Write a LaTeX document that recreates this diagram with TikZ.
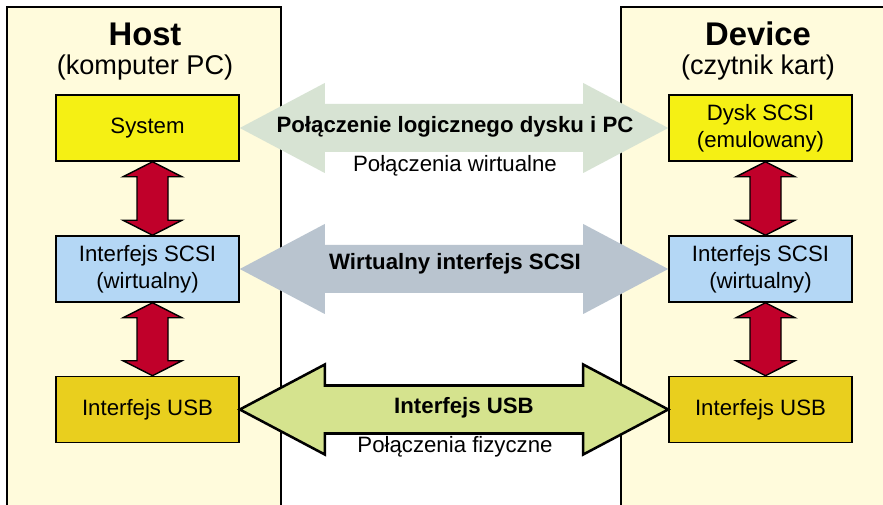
\documentclass[tikz,border=0pt]{standalone}
\usepackage{fontspec}
\setmainfont{Liberation Sans}
\usetikzlibrary{calc, positioning}
\usepackage{xcolor}

\definecolor{panelcol}{RGB}{255,251,220}
\definecolor{syscol}{RGB}{245,240,20}
\definecolor{scsicol}{RGB}{180,215,245}
\definecolor{usbcol}{RGB}{233,207,30}
\definecolor{redcol}{RGB}{192,0,42}
\definecolor{logcol}{RGB}{215,227,211}
\definecolor{virtcol}{RGB}{185,196,207}
\definecolor{fizcol}{RGB}{213,227,142}

% wide horizontal double arrow between two boxes
\newcommand{\widearrow}[3]{%
  \path[#1] (#2.east) -- ++(85,-45) -- ++(0,21) -- ($(#3.west)+(-85,-24)$) -- ++(0,-21)
    -- (#3.west) -- ++(-85,45) -- ++(0,-21) -- ($(#2.east)+(85,24)$) -- ++(0,21) -- cycle;}

% red vertical double arrow between two stacked boxes
\newcommand{\updown}[2]{%
  \draw[updownarrow] ($(#1.south)+(5,0)$) -- ++(29.5,15) -- ++(-14,0) -- ($(#2.north)+(20.5,-15)$)
    -- ++(14,0) -- ($(#2.north)+(5,0)$) -- ++(-29.5,-15) -- ++(14,0) -- ($(#1.south)+(-10.5,15)$)
    -- ++(-14,0) -- cycle;}

\tikzset{
  box/.style={draw, line width=1.1pt, minimum width=4.575cm, minimum height=1.65cm,
    align=center, font=\fontsize{15.8}{19.5}\selectfont},
  title/.style={anchor=base, font=\fontsize{23.3}{28}\selectfont\bfseries},
  subtitle/.style={anchor=base, font=\fontsize{19.3}{23}\selectfont},
  arrowlabel/.style={anchor=base, font=\fontsize{15.8}{19}\selectfont\bfseries},
  sublabel/.style={anchor=base, font=\fontsize{15.8}{19}\selectfont},
  updownarrow/.style={fill=redcol, draw=black, line width=1pt, line join=miter},
  panel/.style={fill=panelcol, draw=black, line width=1.2pt}
}

\begin{document}
\begin{tikzpicture}[x=0.025cm, y=-0.025cm]
        \clip (0,0) rectangle (883,505);
        \fill[white] (0,0) rectangle (883,505);

        % Panels
        \draw[panel] (7,7) rectangle (281,530);
        \draw[panel] (621,7) rectangle (900,530);

        % Titles
        \node[title] (host) at (145,46) {Host};
        \node[subtitle] (hostsub) at (145,75) {(komputer PC)};
        \node[title] (dev) at (758,46) {Device};
        \node[subtitle] (devsub) at (758,75) {(czytnik kart)};

        % Host side
        \node[box, fill=syscol] (hsys) at (147.5,128) {System};
        \node[box, fill=scsicol] (hscsi) at (147.5,269) {Interfejs SCSI\\(wirtualny)};
        \node[box, fill=usbcol] (husb) at (147.5,409.5) {Interfejs USB};

        % Device side
        \node[box, fill=syscol] (dsys) at (760.5,128) {Dysk SCSI\\(emulowany)};
        \node[box, fill=scsicol] (dscsi) at (760.5,269) {Interfejs SCSI\\(wirtualny)};
        \node[box, fill=usbcol] (dusb) at (760.5,409.5) {Interfejs USB};

        % Vertical arrows
        \updown{hsys}{hscsi}
        \updown{hscsi}{husb}
        \updown{dsys}{dscsi}
        \updown{dscsi}{dusb}

        % Horizontal arrows
        \widearrow{fill=logcol}{hsys}{dsys}
        \widearrow{fill=virtcol}{hscsi}{dscsi}
        \widearrow{fill=fizcol, draw=black, line width=1.8pt, line join=miter}{husb}{dusb}

        % Labels
        \node[arrowlabel] (loglabel) at (455,133) {Połączenie logicznego dysku i PC};
        \node[sublabel] (virtsub) at (455,172) {Połączenia wirtualne};
        \node[arrowlabel] (virtlabel) at (455,270) {Wirtualny interfejs SCSI};
        \node[arrowlabel] (usblabel) at (464,413) {Interfejs USB};
        \node[sublabel] (fizsub) at (455,452) {Połączenia fizyczne};

    \end{tikzpicture}
\end{document}
